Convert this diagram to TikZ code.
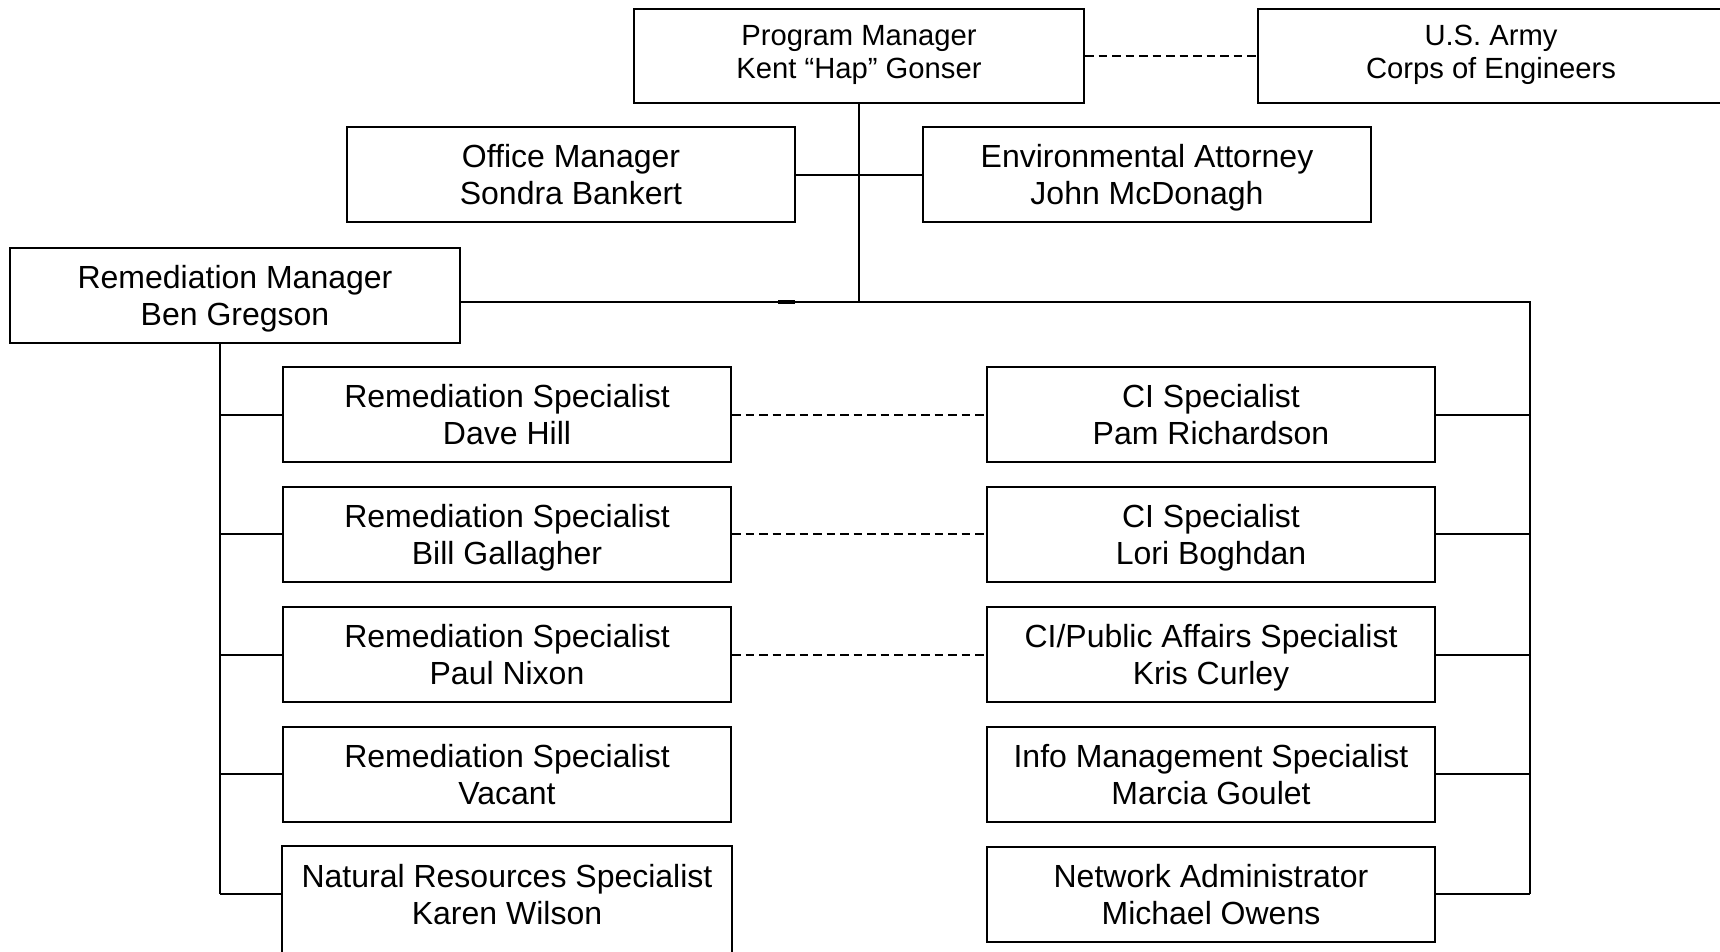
\documentclass[tikz,border=0pt]{standalone}
\usepackage{fontspec}
\setmainfont{Liberation Sans}
\newcommand\stra{\rule[-7pt]{0pt}{37pt}}
\newcommand\strb{\rule[-10.5pt]{0pt}{33pt}}
\begin{document}
\begin{tikzpicture}[x=1pt,y=-1pt,
  box/.style={draw, line width=2pt, minimum width=448pt, minimum height=95pt, align=center, inner sep=0pt, font=\fontsize{32}{37}\selectfont},
  topbox/.style={box, minimum height=94pt, font=\fontsize{29.2}{33}\selectfont},
  lbl/.style={box, draw=none},
  conn/.style={line width=2pt},
  dconn/.style={line width=2pt, dash pattern=on 8.5pt off 5pt}]
\useasboundingbox (0,0) rectangle (1720,951);
% top row
\node[topbox, minimum width=450pt] (pm) at (859,56) {Program Manager\strb\\Kent “Hap” Gonser\strb};
\node[topbox, minimum width=466pt] (usa) at (1491,56) {U.S. Army\strb\\Corps of Engineers\strb};
\node[box] (om) at (571,174.5) {Office Manager\stra\\Sondra Bankert\stra};
\node[box] (ea) at (1147,174.5) {Environmental Attorney\stra\\John McDonagh\stra};
\node[box, minimum width=450pt] (rm) at (235,295) {Remediation Manager\stra\\Ben Gregson\stra};
% left column
\node[box] (l1) at (507,414.5) {Remediation Specialist\stra\\Dave Hill\stra};
\node[box] (l2) at (507,534) {Remediation Specialist\stra\\Bill Gallagher\stra};
\node[box] (l3) at (507,654.5) {Remediation Specialist\stra\\Paul Nixon\stra};
\node[box] (l4) at (507,774) {Remediation Specialist\stra\\Vacant\stra};
\node[lbl] (l5) at (507,894) {Natural Resources Specialist\stra\\Karen Wilson\stra};
\draw[line width=2pt] (l5.north west) rectangle ([yshift=-40pt]l5.south east);
% right column
\node[box] (r1) at (1211,414.5) {CI Specialist\stra\\Pam Richardson\stra};
\node[box] (r2) at (1211,534) {CI Specialist\stra\\Lori Boghdan\stra};
\node[box] (r3) at (1211,654.5) {CI/Public Affairs Specialist\stra\\Kris Curley\stra};
\node[box] (r4) at (1211,774) {Info Management Specialist\stra\\Marcia Goulet\stra};
\node[box] (r5) at (1211,894) {Network Administrator\stra\\Michael Owens\stra};
% connectors
\coordinate (j) at (859,302);
\coordinate (rt) at (1530,302);
\coordinate (lx) at (220,0);
\draw[conn] (pm.south) -- (j);
\draw[conn] (om.east) -- (ea.west);
\draw[conn] (rm.east |- j) -- (rt) -- (rt |- r5.east);
\draw[conn] (lx |- rm.south) -- (lx |- l5.west);
\foreach \n in {l1,l2,l3,l4,l5} \draw[conn] (\n.west) -- (\n.west -| lx);
\foreach \n in {r1,r2,r3,r4,r5} \draw[conn] (\n.east) -- (\n.east -| rt);
\draw[line width=3.5pt] (778,302) -- (795,302);
% dashed links
\draw[dconn] (pm.east) -- (usa.west);
\draw[dconn] (l1.east) -- (r1.west);
\draw[dconn] (l2.east) -- (r2.west);
\draw[dconn] (l3.east) -- (r3.west);
\end{tikzpicture}
\end{document}
